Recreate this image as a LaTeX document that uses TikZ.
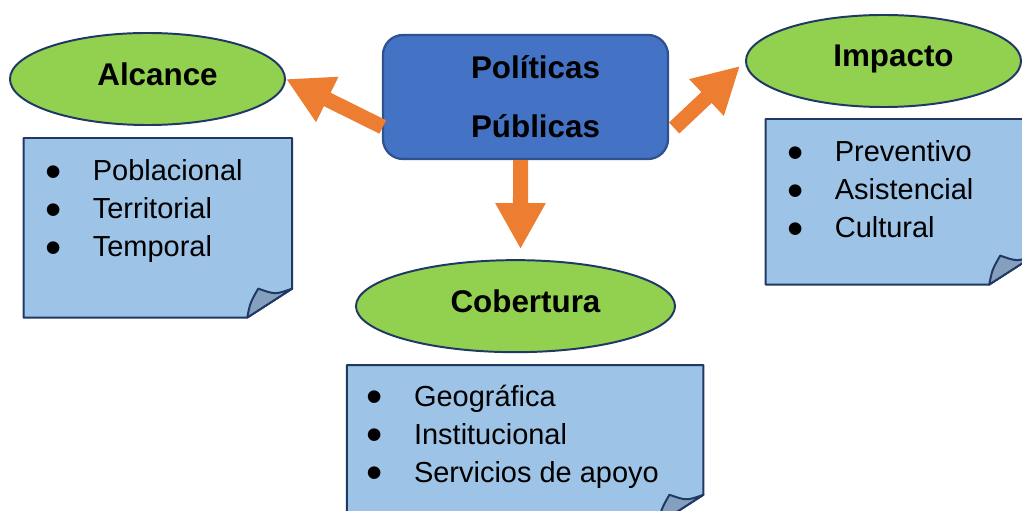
\documentclass[tikz,border=0pt]{standalone}
\usepackage{fontspec}
\setmainfont{Liberation Sans}
\usepackage{tikz}
\usetikzlibrary{arrows.meta,shapes.geometric,positioning,calc}
\definecolor{ppblue}{RGB}{68,114,196}
\definecolor{ppedge}{RGB}{47,82,143}
\definecolor{ppnavy}{RGB}{31,56,100}
\definecolor{ppgreen}{RGB}{146,208,80}
\definecolor{ppnote}{RGB}{157,195,230}
\definecolor{ppflap}{RGB}{132,160,190}
\definecolor{pporange}{RGB}{237,125,49}
\tikzstyle{central} = [rectangle, rounded corners=0.5cm, minimum width=7.125cm, minimum height=3.1cm, align=center, draw=ppedge, fill=ppblue, line width=1.6pt, font=\bfseries\fontsize{22.3}{42}\selectfont]
\tikzstyle{oval} = [ellipse, minimum width=6.875cm, minimum height=2.3cm, inner sep=0pt, draw=ppnavy, fill=ppgreen, line width=1.4pt, font=\bfseries\fontsize{22.3}{27}\selectfont]
\tikzstyle{note} = [rectangle, minimum width=6.7cm, inner sep=0pt]
\tikzstyle{items} = [anchor=base west, inner sep=0pt, font=\fontsize{20.6}{27}\selectfont]
\tikzstyle{arrow} = [line width=0.375cm, -{Triangle[length=1.15cm, width=1.175cm]}, color=pporange]
\tikzstyle{notefill} = [draw=ppnavy, fill=ppnote, line width=1.4pt, line join=round]
\tikzstyle{flapfill} = [draw=ppnavy, fill=ppflap, line width=1.4pt, line join=round]
\newcommand{\itm}[1]{\makebox[1.15cm][l]{\hspace*{-1pt}\raisebox{-4.8pt}[0pt][0pt]{\scalebox{1.6}{\textbullet}}}#1}
\newcommand{\lbl}[1]{\hspace*{0.5cm}\raisebox{0.24cm}{#1}}
\newcommand{\dogear}[1]{%
  \draw[notefill] (#1.north west) -- (#1.north east) -- ($(#1.south east)+(0,-29)$) -- ($(#1.south east)+(-45,0)$) -- (#1.south west) -- cycle;
  \draw[flapfill] ($(#1.south east)+(-45,0)$) .. controls ($(#1.south east)+(-42,-15)$) .. ($(#1.south east)+(-34,-29)$) .. controls ($(#1.south east)+(-17,-23)$) .. ($(#1.south east)+(0,-29)$) -- cycle;}

\begin{document}
\begin{tikzpicture}[x=0.025cm, y=-0.025cm]
\useasboundingbox (0,0) rectangle (1022,511);
% Main topic and the three aspects
\node (ppub) [central] at (525.5,97) {\hspace*{0.5cm}Políticas\\\hspace*{0.5cm}Públicas};
\node (alc) [oval] at (147.5,79) {\lbl{Alcance}};
\node (imp) [oval] at (883.5,61) {\lbl{Impacto}};
\node (cob) [oval, below=2.475cm of ppub, xshift=-0.25cm, minimum width=7.975cm] {\lbl{Cobertura}};

% Notes with the lists
\node (alcn) [note, below=0.3cm of alc, xshift=0.26cm, minimum height=4.475cm] {};
\node (impn) [note, below=0.275cm of imp, xshift=0.41cm, minimum height=4.125cm] {};
\node (cobn) [note, below=0.3cm of cob, xshift=0.24cm, minimum width=8.9cm, minimum height=3.95cm] {};
\dogear{alcn}
\dogear{impn}
\dogear{cobn}
\node (alcl) [items] at ($(alcn.north west)+(23,43)$) {\begin{tabular}[t]{@{}l@{}}\itm{Poblacional}\\\itm{Territorial}\\\itm{Temporal}\end{tabular}};
\node (impl) [items] at ($(impn.north west)+(23,43)$) {\begin{tabular}[t]{@{}l@{}}\itm{Preventivo}\\\itm{Asistencial}\\\itm{Cultural}\end{tabular}};
\node (cobl) [items] at ($(cobn.north west)+(21,41)$) {\begin{tabular}[t]{@{}l@{}}\itm{Geográfica}\\\itm{Institucional}\\\itm{Servicios de apoyo}\end{tabular}};

\draw[arrow] ($(ppub.west)+(1,30)$) -- (alc.east);
\draw[arrow] ($(ppub.east)+(5,31)$) -- ($(imp.west)+(-5,5)$);
\draw[arrow] ($(ppub.south)+(-5,0)$) -- ($(cob.north)+(5,-10)$);
\end{tikzpicture}
\end{document}
